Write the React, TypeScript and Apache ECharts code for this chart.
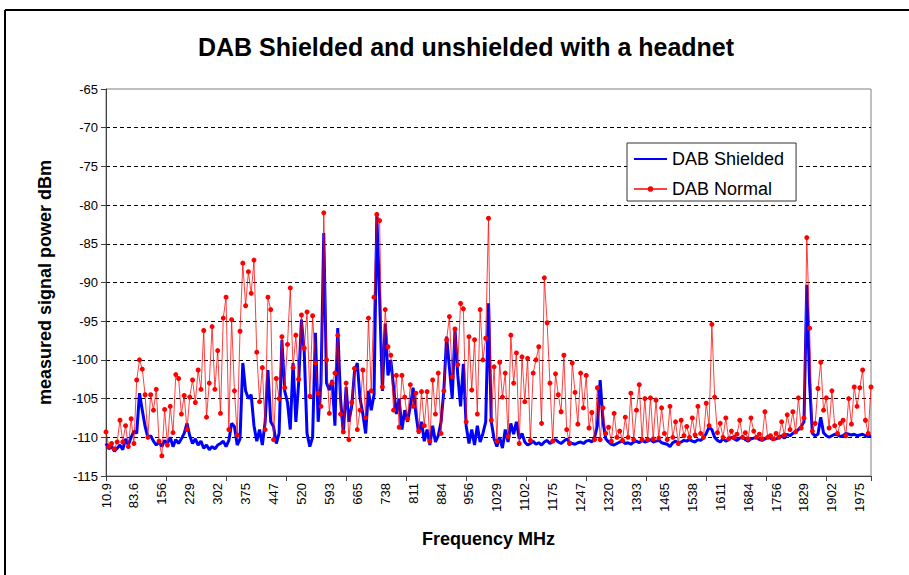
import React, { useEffect, useRef } from "react";
import * as echarts from "echarts";

const FONT = "'Liberation Sans', Arial, sans-serif";

const TITLE = "DAB Shielded and unshielded with a headnet";
const X_NAME = "Frequency MHz";
const Y_NAME = "measured signal power dBm";
const SERIES_NAMES = ["DAB Shielded", "DAB Normal"];

const TICK_LABELS = [
  "10.9", "83.6", "156", "229", "302", "375", "447", "520", "593", "665",
  "738", "811", "884", "956", "1029", "1102", "1175", "1247", "1320", "1393",
  "1465", "1538", "1611", "1684", "1756", "1829", "1902", "1975",
];

const FREQ_START = 10.9;
const FREQ_STEP = 7.2716;

const SHIELDED = [
  -110.8, -111.5, -111.2, -111.8, -111.4, -111.0, -111.6, -110.2, -111.0, -110.0,
  -109.2, -109.5, -104.3, -106.5, -108.6, -110.0, -109.8, -110.5, -111.0, -110.6,
  -111.2, -110.4, -110.8, -110.0, -111.2, -110.3, -110.8, -110.2, -109.5, -108.2,
  -109.8, -110.8, -110.2, -111.0, -110.5, -111.4, -111.0, -111.6, -111.2, -111.5,
  -111.0, -110.8, -110.5, -111.2, -110.4, -108.2, -108.6, -111.0, -110.2, -100.4,
  -104.0, -105.0, -104.5, -108.5, -110.5, -109.0, -111.0, -108.0, -101.3, -108.0,
  -108.6, -110.8, -109.5, -97.4, -104.0, -105.5, -109.0, -100.4, -108.0, -103.0,
  -94.8, -99.0, -109.5, -111.2, -110.0, -96.5, -108.0, -103.0, -83.6, -103.0,
  -103.9, -102.6, -108.5, -95.9, -105.0, -109.5, -103.5, -108.0, -106.0, -101.5,
  -100.4, -105.0, -107.0, -109.5, -104.0, -106.5, -104.5, -81.3, -92.0, -104.0,
  -95.3, -102.0, -100.0, -103.5, -107.0, -105.0, -109.0, -106.5, -108.0, -106.0,
  -103.6, -107.0, -109.5, -108.0, -110.5, -109.0, -111.0, -108.5, -110.6, -109.8,
  -108.0, -104.0, -97.0, -101.0, -105.0, -96.0, -102.0, -106.0, -100.5, -108.5,
  -110.8, -109.0, -111.0, -108.5, -110.6, -109.5, -108.0, -92.7, -108.0, -110.2,
  -111.2, -110.0, -111.4, -109.0, -110.6, -108.2, -109.6, -108.0, -110.2, -109.5,
  -110.6, -111.0, -110.8, -110.5, -110.9, -110.7, -111.0, -110.6, -110.4, -110.8,
  -110.5, -110.3, -110.6, -110.8, -110.5, -110.2, -110.6, -110.8, -110.9, -110.7,
  -110.6, -110.8, -110.5, -110.4, -110.6, -110.0, -108.5, -102.6, -108.0, -110.2,
  -110.6, -110.9, -111.0, -110.8, -110.6, -110.5, -110.8, -110.7, -110.9, -110.6,
  -110.5, -110.7, -110.4, -110.6, -110.5, -110.3, -110.6, -110.5, -110.4, -110.7,
  -110.8, -110.9, -111.2, -110.7, -110.5, -110.8, -110.6, -110.4, -110.5, -110.3,
  -110.5, -110.6, -110.3, -110.4, -110.1, -109.5, -108.7, -109.0, -110.0, -110.4,
  -110.6, -110.2, -110.5, -110.3, -110.0, -110.2, -110.4, -110.1, -110.0, -110.3,
  -110.5, -110.2, -110.1, -110.0, -110.3, -110.4, -110.2, -110.0, -110.1, -110.3,
  -110.2, -110.0, -109.8, -110.1, -109.6, -109.8, -109.5, -109.3, -109.0, -108.6,
  -108.0, -90.3, -103.0, -109.5, -109.8, -109.6, -107.4, -109.4, -109.8, -110.0,
  -109.8, -109.6, -109.7, -109.9, -109.8, -109.5, -109.6, -109.7, -109.6, -109.8,
  -109.7, -109.6, -109.8, -109.9, -109.8,
];

const NORMAL = [
  -109.3, -111.2, -110.8, -111.5, -110.6, -107.8, -110.6, -108.5, -111.2, -107.6,
  -110.8, -102.6, -100.0, -101.2, -104.5, -110.0, -104.5, -106.5, -103.8, -110.5,
  -112.4, -106.4, -111.0, -106.0, -109.4, -101.9, -102.4, -107.0, -104.6, -109.0,
  -104.8, -102.6, -105.5, -101.3, -103.8, -96.2, -107.4, -103.0, -95.7, -103.8,
  -98.8, -106.9, -94.6, -91.9, -109.0, -94.8, -104.0, -109.7, -96.3, -87.5,
  -93.0, -88.6, -91.4, -87.1, -99.0, -105.4, -101.0, -109.0, -91.9, -93.5,
  -110.3, -102.4, -105.0, -97.0, -103.6, -98.0, -90.7, -101.0, -96.8, -102.5,
  -94.2, -98.5, -93.8, -104.7, -94.3, -100.4, -104.3, -106.0, -81.0, -100.0,
  -106.9, -103.0, -101.7, -96.8, -107.0, -109.3, -103.0, -110.3, -105.5, -101.1,
  -109.0, -106.5, -101.3, -107.5, -94.6, -104.0, -91.9, -81.2, -82.0, -103.5,
  -93.5, -98.3, -99.4, -106.5, -102.0, -108.7, -102.0, -104.8, -107.6, -103.2,
  -106.0, -104.3, -109.2, -104.1, -108.5, -104.1, -110.5, -102.6, -107.0, -101.7,
  -109.5, -104.0, -97.4, -94.4, -102.2, -96.0, -100.6, -92.7, -93.4, -108.0,
  -97.0, -103.9, -97.4, -107.0, -93.5, -100.0, -97.2, -81.7, -107.8, -100.9,
  -110.5, -100.3, -104.8, -101.7, -109.9, -96.8, -103.0, -99.1, -110.8, -99.6,
  -105.4, -99.8, -110.4, -101.7, -100.0, -98.3, -108.2, -89.4, -95.2, -103.0,
  -110.5, -101.8, -104.5, -106.7, -99.4, -109.0, -110.8, -100.4, -104.2, -108.3,
  -101.7, -106.2, -102.0, -108.8, -106.8, -110.3, -103.6, -110.3, -106.2, -109.5,
  -108.7, -110.5, -106.9, -110.0, -109.2, -110.4, -107.4, -110.0, -104.3, -110.3,
  -106.5, -103.2, -110.3, -105.0, -110.3, -104.9, -110.2, -105.2, -110.1, -106.2,
  -109.5, -110.3, -106.0, -110.0, -108.0, -110.8, -107.8, -109.8, -108.6, -110.0,
  -107.5, -109.7, -106.0, -109.5, -110.0, -105.6, -108.5, -95.4, -104.8, -109.4,
  -108.2, -110.0, -107.5, -110.2, -109.2, -110.0, -109.6, -107.8, -110.0, -109.4,
  -110.2, -107.5, -109.2, -110.0, -109.6, -110.2, -106.7, -110.0, -109.8, -110.2,
  -109.5, -110.0, -108.0, -109.7, -107.1, -109.0, -106.7, -109.3, -104.9, -108.8,
  -107.5, -84.2, -95.9, -109.2, -108.2, -103.7, -100.3, -106.5, -104.9, -108.8,
  -104.0, -108.5, -109.5, -108.2, -107.8, -109.8, -105.0, -108.3, -103.5, -106.0,
  -103.6, -101.3, -107.8, -109.5, -103.5,
];

const CATEGORIES = SHIELDED.map((_, i) => (FREQ_START + i * FREQ_STEP).toFixed(1));

export default function App() {
  const ref = useRef<HTMLDivElement>(null);

  useEffect(() => {
    if (!ref.current) return;
    const chart = echarts.init(ref.current, null, { renderer: "svg" });
    const gridColors = TICK_LABELS.slice(0, 11).map((_, i) =>
      i === 0 || i === 10 ? "rgba(0,0,0,0)" : "#000000"
    );
    chart.setOption({
      animation: false,
      backgroundColor: "#ffffff",
      graphic: [
        {
          type: "line",
          shape: { x1: 5, y1: 10, x2: 909, y2: 10 },
          style: { stroke: "#000", lineWidth: 2 },
          silent: true,
        },
        {
          type: "line",
          shape: { x1: 5, y1: 10, x2: 5, y2: 575 },
          style: { stroke: "#000", lineWidth: 2 },
          silent: true,
        },
        {
          type: "text",
          x: 466,
          y: 47,
          style: {
            text: TITLE,
            fill: "#000",
            fontSize: 25,
            fontWeight: "bold",
            fontFamily: FONT,
            align: "center",
            verticalAlign: "middle",
          },
          silent: true,
        },
      ],
      legend: {
        data: [
          { name: SERIES_NAMES[0], itemStyle: { opacity: 0 } },
          { name: SERIES_NAMES[1] },
        ],
        orient: "vertical",
        left: 627,
        top: 143,
        itemWidth: 33,
        itemHeight: 7,
        itemGap: 10,
        padding: [6, 12, 2, 6],
        borderColor: "#333",
        borderWidth: 1,
        backgroundColor: "#ffffff",
        textStyle: { fontSize: 18, color: "#000", fontFamily: FONT, lineHeight: 20 },
      },
      grid: {
        left: 106,
        right: 38,
        top: 89,
        bottom: 99,
        show: true,
        borderColor: "#808080",
        borderWidth: 1,
        backgroundColor: "#ffffff",
      },
      xAxis: [
        {
          type: "category",
          data: CATEGORIES,
          boundaryGap: false,
          name: X_NAME,
          nameLocation: "middle",
          nameGap: 54,
          nameTextStyle: { fontSize: 18, fontWeight: "bold", color: "#000", fontFamily: FONT },
          axisLine: { lineStyle: { color: "#404040", width: 1 } },
          axisTick: { show: false },
          axisLabel: {
            interval: 9,
            rotate: 90,
            margin: 7,
            fontSize: 13,
            color: "#000",
            fontFamily: FONT,
            formatter: (_v: string, idx: number) => TICK_LABELS[idx / 10] ?? "",
          },
          splitLine: { show: false },
        },
        {
          type: "value",
          min: 0,
          max: CATEGORIES.length - 1,
          interval: 21.5,
          position: "bottom",
          axisLine: { show: false },
          axisTick: { show: true, length: 5, lineStyle: { color: "#404040" } },
          axisLabel: { show: false },
          splitLine: { show: false },
        },
      ],
      yAxis: {
        type: "value",
        min: -115,
        max: -65,
        interval: 5,
        name: Y_NAME,
        nameLocation: "middle",
        nameGap: 52,
        nameTextStyle: { fontSize: 18, fontWeight: "bold", color: "#000", fontFamily: FONT },
        axisLine: { show: true, lineStyle: { color: "#404040", width: 1 } },
        axisTick: { show: true, length: 5, lineStyle: { color: "#404040" } },
        axisLabel: { fontSize: 13, color: "#000", fontFamily: FONT, margin: 8 },
        splitLine: { show: true, lineStyle: { color: gridColors, type: [4, 3], width: 1 } },
      },
      series: [
        {
          name: SERIES_NAMES[0],
          type: "line",
          xAxisIndex: 0,
          data: SHIELDED,
          symbol: "none",
          showSymbol: false,
          lineStyle: { color: "#0000FF", width: 3 },
          itemStyle: { color: "#0000FF" },
          z: 2,
        },
        {
          name: SERIES_NAMES[1],
          type: "line",
          xAxisIndex: 0,
          data: NORMAL,
          symbol: "circle",
          symbolSize: 5,
          showSymbol: true,
          showAllSymbol: true,
          lineStyle: { color: "#FF0000", width: 1, opacity: 0.75 },
          itemStyle: { color: "#FF0000" },
          z: 3,
        },
      ],
    });
    return () => chart.dispose();
  }, []);

  return (
    <div
      ref={ref}
      style={{ position: "absolute", left: 0, top: 0, width: 909, height: 575 }}
    />
  );
}
